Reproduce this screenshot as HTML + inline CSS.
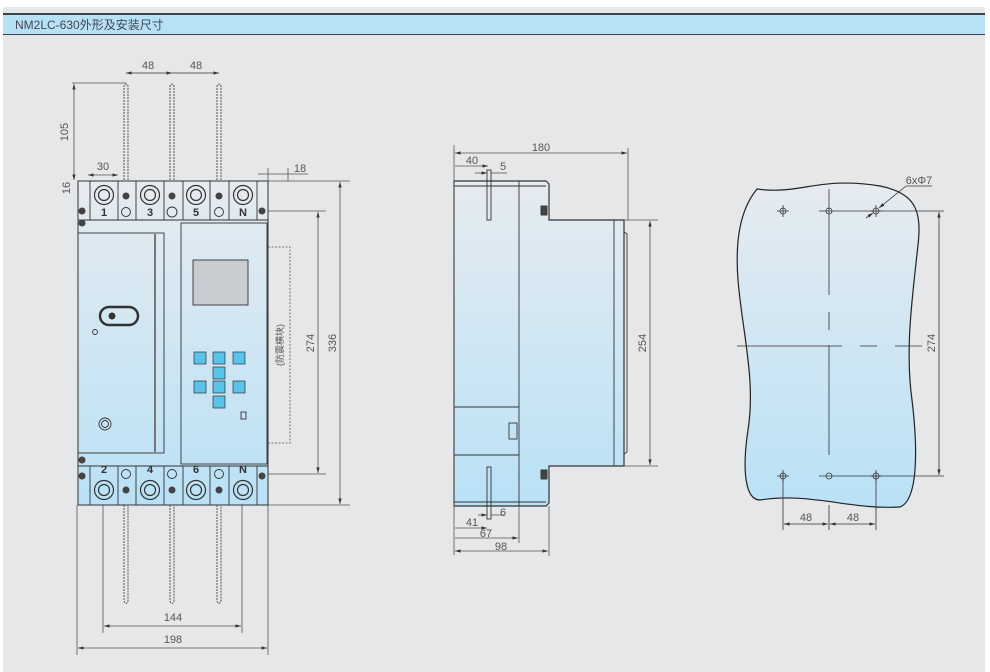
<!DOCTYPE html>
<html><head><meta charset="utf-8"><style>
html,body{margin:0;padding:0;background:#fff;}
body{width:990px;height:672px;position:relative;overflow:hidden;font-family:"Liberation Sans","Noto Sans CJK SC",sans-serif;}
#bg{position:absolute;left:3px;top:7px;width:982px;height:665px;background:#e6e7e9;}
#hl{position:absolute;left:3px;top:13px;width:982px;height:2px;background:#3c4248;}
#bar{position:absolute;left:3px;top:15px;width:982px;height:20px;background:#b7e2f6;border-bottom:1.5px solid #3c4248;font-size:12px;color:#445;line-height:20px;padding-left:12px;box-sizing:border-box;}
svg{position:absolute;left:0;top:0;}
text{font-family:"Liberation Sans","Noto Sans CJK SC",sans-serif;fill:#555;font-size:11px;}
</style></head><body>
<div id="bg"></div><div id="hl"></div><div id="bar">NM2LC-630外形及安装尺寸</div>
<svg width="990" height="672" viewBox="0 0 990 672">
<defs>
<linearGradient id="g" x1="0" y1="0" x2="0" y2="1"><stop offset="0" stop-color="#e6ebf0"/><stop offset="1" stop-color="#b9e1f6"/></linearGradient>
<marker id="a" viewBox="0 0 10 10" refX="10" refY="5" markerWidth="7" markerHeight="7" orient="auto-start-reverse"><path d="M0,2 L10,5 L0,8z" fill="#333"/></marker>
</defs>
<g stroke="#555" stroke-width="0.8" fill="none">
<line x1="126" y1="73" x2="219" y2="73"/>
<line x1="126" y1="73" x2="172" y2="73" marker-start="url(#a)" marker-end="url(#a)"/>
<line x1="172" y1="73" x2="219" y2="73" marker-end="url(#a)"/>
<line x1="72" y1="83" x2="126" y2="83"/>
<line x1="74" y1="84" x2="74" y2="180" marker-start="url(#a)" marker-end="url(#a)"/>
<line x1="88" y1="175" x2="118" y2="175" marker-start="url(#a)" marker-end="url(#a)"/>
<line x1="258" y1="174" x2="308" y2="174"/>
<line x1="268" y1="168" x2="268" y2="181"/><line x1="288" y1="168" x2="288" y2="181"/>
<line x1="268" y1="181" x2="350" y2="181"/>
<line x1="268" y1="211" x2="326" y2="211"/>
<line x1="268" y1="474" x2="326" y2="474"/>
<line x1="268" y1="505" x2="350" y2="505"/>
<line x1="340" y1="182" x2="340" y2="504" marker-start="url(#a)" marker-end="url(#a)"/>
<line x1="318" y1="212" x2="318" y2="473" marker-start="url(#a)" marker-end="url(#a)"/>
<rect x="268" y="247" width="22" height="196" stroke-dasharray="2 1.5"/>
<line x1="77" y1="505" x2="77" y2="655"/><line x1="268" y1="505" x2="268" y2="655"/>
<line x1="103" y1="505" x2="103" y2="633"/><line x1="242" y1="505" x2="242" y2="633"/>
<line x1="104" y1="626" x2="241" y2="626" marker-start="url(#a)" marker-end="url(#a)"/>
<line x1="78" y1="648" x2="267" y2="648" marker-start="url(#a)" marker-end="url(#a)"/>
</g>
<g stroke="#555" stroke-width="1" fill="none" stroke-dasharray="2 1">
<path d="M124,180 V86 Q126,82 128,86 V180"/><path d="M170,180 V86 Q172,82 174,86 V180"/><path d="M217,180 V86 Q219,82 221,86 V180"/>
<path d="M124,505 V601 Q126,606 128,601 V505"/><path d="M170,505 V601 Q172,606 174,601 V505"/><path d="M217,505 V601 Q219,606 221,601 V505"/>
</g>
<text x="148" y="69" text-anchor="middle">48</text><text x="196" y="69" text-anchor="middle">48</text>
<text x="68" y="132" transform="rotate(-90 68 132)" text-anchor="middle">105</text>
<text x="103" y="170" text-anchor="middle">30</text>
<text x="300" y="172" text-anchor="middle">18</text>
<text x="70" y="188" transform="rotate(-90 70 188)" text-anchor="middle">16</text>
<text x="336" y="343" transform="rotate(-90 336 343)" text-anchor="middle">336</text>
<text x="314" y="343" transform="rotate(-90 314 343)" text-anchor="middle">274</text>
<text x="283" y="345" transform="rotate(-90 283 345)" text-anchor="middle" style="font-size:9px">(防震横块)</text>
<text x="173" y="621" text-anchor="middle">144</text><text x="173" y="643" text-anchor="middle">198</text>
<g stroke="#333" stroke-width="1" fill="url(#g)">
<rect x="78" y="181" width="190" height="324"/>
</g>
<g stroke="#333" stroke-width="0.9" fill="none">
<line x1="78" y1="220" x2="268" y2="220"/><line x1="78" y1="466" x2="268" y2="466"/>
<rect x="78" y="233" width="86" height="220"/><line x1="155" y1="234" x2="155" y2="452" stroke-width="2" stroke="#777"/>
<rect x="181" y="223" width="86" height="241"/>
<rect x="193" y="260" width="55" height="45" fill="#c9cdd2"/>
<rect x="100" y="307" width="38" height="18" rx="9" stroke-width="2.5"/><circle cx="112" cy="316" r="3" fill="#333"/>
<circle cx="95" cy="332" r="2.5"/><circle cx="105" cy="424" r="6"/><circle cx="105" cy="424" r="3.5"/>
<rect x="241" y="412" width="5" height="7"/>
</g>
<g fill="#58c4ea" stroke="#333" stroke-width="0.7">
<rect x="194" y="352" width="12" height="12"/><rect x="213" y="352" width="12" height="12"/><rect x="233" y="352" width="12" height="12"/>
<rect x="213" y="367" width="12" height="12"/>
<rect x="194" y="381" width="12" height="12"/><rect x="213" y="381" width="12" height="12"/><rect x="233" y="381" width="12" height="12"/>
<rect x="213" y="396" width="12" height="12"/>
</g>
<g stroke="#333" stroke-width="0.9" fill="none">
<rect x="90" y="181" width="28" height="39"/><rect x="136" y="181" width="28" height="39"/><rect x="183" y="181" width="27" height="39"/><rect x="229" y="181" width="28" height="39"/>
<rect x="90" y="466" width="28" height="39"/><rect x="136" y="466" width="28" height="39"/><rect x="183" y="466" width="27" height="39"/><rect x="229" y="466" width="28" height="39"/>
<g stroke-width="1.2">
<circle cx="104" cy="195" r="9.5"/><circle cx="104" cy="195" r="5.5"/><circle cx="150" cy="195" r="9.5"/><circle cx="150" cy="195" r="5.5"/>
<circle cx="196" cy="195" r="9.5"/><circle cx="196" cy="195" r="5.5"/><circle cx="243" cy="195" r="9.5"/><circle cx="243" cy="195" r="5.5"/>
<circle cx="104" cy="490" r="9.5"/><circle cx="104" cy="490" r="5.5"/><circle cx="150" cy="490" r="9.5"/><circle cx="150" cy="490" r="5.5"/>
<circle cx="196" cy="490" r="9.5"/><circle cx="196" cy="490" r="5.5"/><circle cx="243" cy="490" r="9.5"/><circle cx="243" cy="490" r="5.5"/>
</g>
<circle cx="126" cy="212" r="4.5"/><circle cx="172" cy="212" r="5"/><circle cx="219" cy="212" r="4.5"/>
<circle cx="126" cy="474" r="4.5"/><circle cx="172" cy="474" r="4.5"/><circle cx="219" cy="474" r="4.5"/>
</g>
<g fill="#444">
<circle cx="126" cy="196" r="3.5"/><circle cx="172" cy="196" r="3.5"/><circle cx="219" cy="196" r="3.5"/>
<circle cx="126" cy="490" r="3.5"/><circle cx="172" cy="490" r="3.5"/><circle cx="219" cy="490" r="3.5"/>
<circle cx="82" cy="211" r="3.5"/><circle cx="262" cy="211" r="3.5"/><circle cx="82" cy="223" r="3.5"/>
<circle cx="82" cy="460" r="3.5"/><circle cx="82" cy="476" r="3.5"/><circle cx="262" cy="476" r="3.5"/>
</g>
<g style="font-size:7px;font-weight:bold;fill:#333" text-anchor="middle">
<text x="104" y="216" style="fill:#333">1</text><text x="150" y="216" style="fill:#333">3</text><text x="196" y="216" style="fill:#333">5</text><text x="243" y="216" style="fill:#333">N</text>
<text x="104" y="473" style="fill:#333">2</text><text x="150" y="473" style="fill:#333">4</text><text x="196" y="473" style="fill:#333">6</text><text x="243" y="473" style="fill:#333">N</text>
</g>
<path d="M454,181 H546 L549,184 V220 H624 V466 H549 V503 L546,506 H454 Z" fill="url(#g)" stroke="#333" stroke-width="1.2"/>
<g stroke="#333" stroke-width="0.9" fill="none">
<line x1="454" y1="186" x2="546" y2="186"/><line x1="454" y1="502" x2="546" y2="502"/>
<line x1="519" y1="181" x2="519" y2="506"/><line x1="614" y1="220" x2="614" y2="466"/>
<path d="M624,220 V232 L627,234 V452 L624,454"/>
<rect x="487" y="170" width="4" height="50"/><rect x="487" y="467" width="4" height="52"/>
<line x1="454" y1="407" x2="519" y2="407"/><line x1="454" y1="455" x2="519" y2="455"/>
<rect x="509" y="423" width="8" height="16"/>
<rect x="541" y="206" width="6" height="9" fill="#444"/><rect x="541" y="470" width="6" height="9" fill="#444"/>
</g>
<g stroke="#555" stroke-width="0.8" fill="none">
<line x1="454" y1="145" x2="454" y2="555"/><line x1="628" y1="148" x2="628" y2="220"/>
<line x1="455" y1="153" x2="627" y2="153" marker-start="url(#a)" marker-end="url(#a)"/>
<line x1="455" y1="166" x2="488" y2="166" marker-end="url(#a)"/>
<line x1="475" y1="173" x2="487" y2="173" marker-end="url(#a)"/><line x1="491" y1="173" x2="507" y2="173"/>
<line x1="624" y1="220" x2="658" y2="220"/><line x1="624" y1="466" x2="658" y2="466"/>
<line x1="650" y1="221" x2="650" y2="465" marker-start="url(#a)" marker-end="url(#a)"/>
<line x1="478" y1="515" x2="487" y2="515" marker-end="url(#a)"/><line x1="491" y1="515" x2="505" y2="515"/>
<line x1="455" y1="528" x2="487" y2="528" marker-end="url(#a)"/>
<line x1="455" y1="538" x2="518" y2="538" marker-end="url(#a)"/><line x1="519" y1="506" x2="519" y2="543"/>
<line x1="549" y1="506" x2="549" y2="556"/>
<line x1="455" y1="551" x2="548" y2="551" marker-start="url(#a)" marker-end="url(#a)"/>
</g>
<text x="541" y="151" text-anchor="middle">180</text><text x="472" y="164" text-anchor="middle">40</text><text x="503" y="170" text-anchor="middle">5</text>
<text x="646" y="343" transform="rotate(-90 646 343)" text-anchor="middle">254</text>
<text x="503" y="516" text-anchor="middle">6</text><text x="472" y="526" text-anchor="middle">41</text><text x="486" y="537" text-anchor="middle">67</text><text x="501" y="550" text-anchor="middle">98</text>
<path d="M757,189 C800,195 820,176 880,186 C915,193 922,210 918,245 C912,300 905,350 912,400 C918,450 918,500 900,507 C850,510 810,492 760,500 C745,500 742,470 748,430 C756,380 742,330 738,280 C735,240 740,210 757,189 Z" fill="url(#g)" stroke="#222" stroke-width="1.2"/>
<g stroke="#333" stroke-width="0.8" fill="none">
<line x1="829" y1="189" x2="829" y2="295"/><line x1="829" y1="312" x2="829" y2="330"/><line x1="829" y1="345" x2="829" y2="455"/><line x1="829" y1="505" x2="829" y2="530"/>
<line x1="737" y1="346" x2="842" y2="346"/><line x1="860" y1="346" x2="877" y2="346"/><line x1="895" y1="346" x2="922" y2="346"/>
<line x1="819" y1="211" x2="944" y2="211"/><line x1="819" y1="476" x2="944" y2="476"/>
<line x1="939" y1="212" x2="939" y2="475" marker-start="url(#a)" marker-end="url(#a)"/>
<line x1="783" y1="476" x2="783" y2="530"/><line x1="876" y1="476" x2="876" y2="530"/>
<line x1="784" y1="524" x2="828" y2="524" marker-start="url(#a)" marker-end="url(#a)"/>
<line x1="830" y1="524" x2="875" y2="524" marker-start="url(#a)" marker-end="url(#a)"/>
<line x1="906" y1="186" x2="932" y2="186"/><line x1="906" y1="186" x2="879" y2="208" marker-end="url(#a)"/>
<line x1="866" y1="218" x2="873" y2="213" marker-end="url(#a)"/>
<circle cx="783" cy="211" r="3"/><circle cx="829" cy="211" r="3"/><circle cx="876" cy="211" r="3"/>
<circle cx="783" cy="476" r="3"/><circle cx="829" cy="476" r="3"/><circle cx="876" cy="476" r="3"/>
<path d="M777,211h12M783,205v12M870,211h12M876,205v12M777,476h12M783,470v12M870,476h12M876,470v12"/>
</g>
<text x="919" y="184" text-anchor="middle">6xΦ7</text>
<text x="935" y="343" transform="rotate(-90 935 343)" text-anchor="middle">274</text>
<text x="806" y="521" text-anchor="middle">48</text><text x="853" y="521" text-anchor="middle">48</text>
</svg>
</body></html>
